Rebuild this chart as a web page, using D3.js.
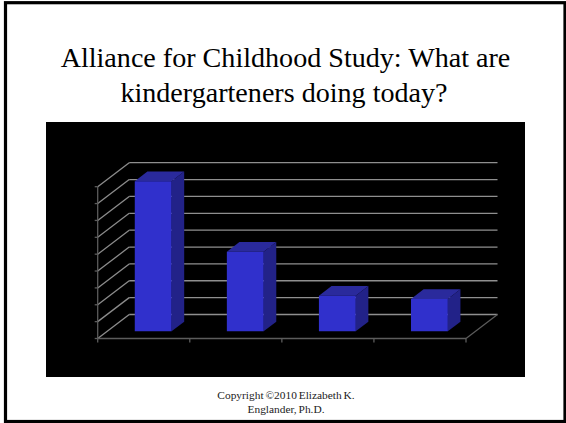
<!DOCTYPE html>
<html>
<head>
<meta charset="utf-8">
<script src="https://cdn.jsdelivr.net/npm/d3@7"></script>
<style>
    html, body { margin: 0; padding: 0; background: #fff; }
    svg { display: block; }
</style>
</head>
<body>
<svg id="chart" width="566" height="423"></svg>
<script>
// values, the original has no axis labels
const categories = ['a', 'b', 'c', 'd'];
const values = [8.9, 4.72, 2.11, 1.92];
const gridTicks = [0, 1, 2, 3, 4, 5, 6, 7, 8, 9];
const titleLines = ['Alliance for Childhood Study: What are', 'kindergarteners doing today?'];
const footerLines = ['Copyright \u00A92010 Elizabeth K.', 'Englander, Ph.D.'];

const svg = d3.select('#chart');

// slide frame and chart background
svg.append('rect')
    .attr('x', 5.5).attr('y', 2.7)
    .attr('width', 559.5).attr('height', 418.8)
    .attr('fill', '#fff').attr('stroke', '#000').attr('stroke-width', 3.2);
svg.append('rect')
    .attr('x', 46).attr('y', 122)
    .attr('width', 479).attr('height', 255)
    .attr('fill', '#000');

let title = svg.append('g')
    .attr('font-family', '"Liberation Serif", serif')
    .attr('font-size', 28.1)
    .attr('text-anchor', 'middle')
    .attr('fill', '#000');
title.selectAll('text')
    .data(titleLines)
    .enter()
    .append('text')
    .attr('x', function(d, i) { return i == 0 ? 285.5 : 284; })
    .attr('y', function(d, i) { return 67 + i * 35.3; })
    .text(function(d) { return d; });

let footer = svg.append('g')
    .attr('font-family', '"Liberation Serif", serif')
    .attr('font-size', 11.4)
    .attr('word-spacing', -1)
    .attr('text-anchor', 'middle')
    .attr('fill', '#222');
footer.selectAll('text')
    .data(footerLines)
    .enter()
    .append('text')
    .attr('x', 286)
    .attr('y', function(d, i) { return 399.3 + i * 13.4; })
    .text(function(d) { return d; });

// front plane scales, depth goes back and up along the floor
const x = d3.scaleBand().domain(categories).range([97.7, 466]);
const y = d3.scaleLinear().domain([0, 9]).range([338.5, 186.7]);
const depth = d3.scaleLinear().domain([0, 1]).range([0, 1]);
const depthX = 31.5;
const depthY = -24;

function project(px, value, d) {
    return [px + depth(d) * depthX, y(value) + depth(d) * depthY];
}

const line = d3.line();
const axisColor = '#8c8c8c';

let grid = svg.append('g').attr('fill', 'none').attr('stroke-width', 1.3);

// side wall and back wall lines
grid.selectAll('.side')
    .data(gridTicks)
    .enter()
    .append('path')
    .attr('class', 'side')
    .attr('stroke', axisColor)
    .attr('d', function(t) {
        return line([project(x.range()[0], t, 0), project(x.range()[0], t, 1)]);
    });

grid.selectAll('.back')
    .data(gridTicks)
    .enter()
    .append('path')
    .attr('class', 'back')
    .attr('stroke', '#8f8f8f')
    .attr('d', function(t) {
        return line([project(x.range()[0], t, 1), project(x.range()[1], t, 1)]);
    });

// floor edges
grid.append('path')
    .attr('stroke', '#5c5c5c')
    .attr('d', line([project(x.range()[1], 0, 0), project(x.range()[1], 0, 1)]));
grid.append('path')
    .attr('stroke', '#5c5c5c')
    .attr('d', line([project(x.range()[0], 0, 0), project(x.range()[1], 0, 0)]));

// value axis on the front left corner
grid.append('path')
    .attr('stroke', '#5c5c5c')
    .attr('d', line([project(x.range()[0], 0, 0), project(x.range()[0], 9, 0)]));
grid.selectAll('.ytick')
    .data(gridTicks)
    .enter()
    .append('path')
    .attr('class', 'ytick')
    .attr('stroke', '#5c5c5c')
    .attr('d', function(t) {
        let p = project(x.range()[0], t, 0);
        return line([[p[0] - 3, p[1]], p]);
    });

// category ticks
const xTicks = categories.map(function(c) { return x(c); }).concat([x.range()[1]]);
grid.selectAll('.xtick')
    .data(xTicks)
    .enter()
    .append('path')
    .attr('class', 'xtick')
    .attr('stroke', '#5c5c5c')
    .attr('d', function(px) {
        return line([[px, y(0)], [px, y(0) + 4]]);
    });

// bars sit from 0.3 to 0.7 of the depth
const barWidth = x.bandwidth() * 0.4;
const d0 = 0.3;
const d1 = 0.7;

let bars = svg.selectAll('.bar')
    .data(categories.map(function(c, i) { return { name: c, value: values[i] }; }))
    .enter()
    .append('g')
    .attr('class', 'bar');

function barLeft(d) {
    return x(d.name) + (x.bandwidth() - barWidth) / 2;
}

bars.append('path')
    .attr('fill', '#2a2a9c')
    .attr('d', function(d) {
        let l = barLeft(d);
        return line([
            project(l, d.value, d0), project(l + barWidth, d.value, d0),
            project(l + barWidth, d.value, d1), project(l, d.value, d1)
        ]) + 'Z';
    });

bars.append('path')
    .attr('fill', '#222288')
    .attr('d', function(d) {
        let r = barLeft(d) + barWidth;
        return line([
            project(r, 0, d0), project(r, d.value, d0),
            project(r, d.value, d1), project(r, 0, d1)
        ]) + 'Z';
    });

bars.append('path')
    .attr('fill', '#3030cc')
    .attr('d', function(d) {
        let l = barLeft(d);
        return line([
            project(l, 0, d0), project(l + barWidth, 0, d0),
            project(l + barWidth, d.value, d0), project(l, d.value, d0)
        ]) + 'Z';
    });
</script>
</body>
</html>
